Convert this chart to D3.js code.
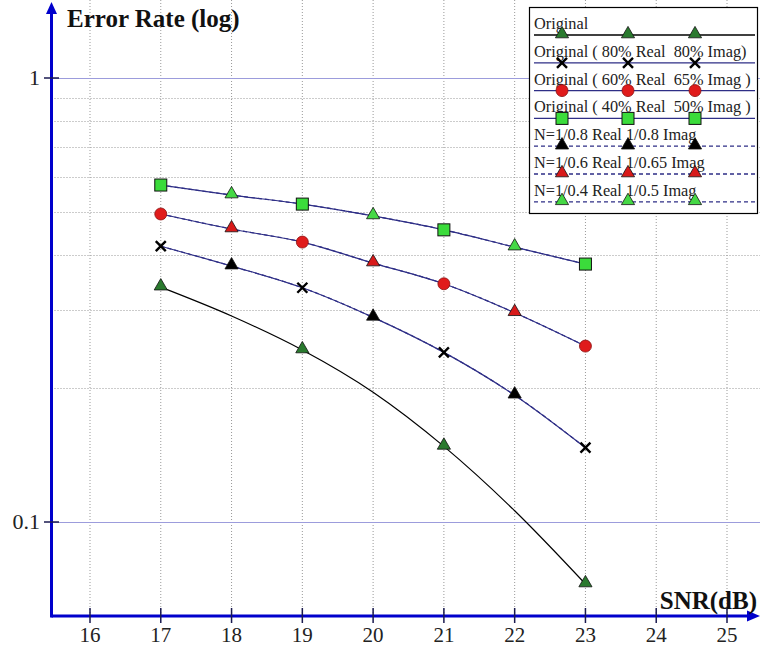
<!DOCTYPE html>
<html>
<head>
<meta charset="utf-8">
<script src="https://cdn.jsdelivr.net/npm/d3@7"></script>
<style>
  body { margin: 0; background: #fff; }
  text { font-family: "Liberation Serif", "DejaVu Serif", serif; }
</style>
</head>
<body>
<script>
// SNR values (dB) shared by every series
var snr = [17, 18, 19, 20, 21, 22, 23];

// error rates
var original      = [0.338, 0.291, 0.244, 0.196, 0.148, 0.106, 0.0725];
var orig80        = [0.418, 0.377, 0.337, 0.289, 0.241, 0.193, 0.147];
var orig60        = [0.494, 0.457, 0.427, 0.383, 0.344, 0.296, 0.249];
var orig40        = [0.574, 0.545, 0.520, 0.489, 0.455, 0.416, 0.381];
var n08           = [0.418, 0.377, 0.337, 0.289, 0.241, 0.193, 0.147];
var n06           = [0.494, 0.457, 0.427, 0.383, 0.344, 0.296, 0.249];
var n04           = [0.574, 0.545, 0.520, 0.489, 0.455, 0.416, 0.381];

var legendLabels = [
    "Original",
    "Original ( 80% Real  80% Imag)",
    "Original ( 60% Real  65% Imag )",
    "Original ( 40% Real  50% Imag )",
    "N=1/0.8 Real 1/0.8 Imag",
    "N=1/0.6 Real 1/0.65 Imag",
    "N=1/0.4 Real 1/0.5 Imag"
];

var xTicks = [16, 17, 18, 19, 20, 21, 22, 23, 24, 25];
var yMajor = [1, 0.1];
var yMinor = [0.2, 0.3, 0.4, 0.5, 0.6, 0.7, 0.8, 0.9];

function makechart() {
    var width = 760,
        height = 648;
    var navy = "#2e2e86";

    var svg = d3.select("body").append("svg")
        .attr("width", width)
        .attr("height", height);

    var x = d3.scaleLinear().domain([16, 25]).range([90, 727]);
    var y = d3.scaleLog().domain([0.1, 1]).range([522, 78]);

    var axisX = 51.5, axisY = 616;

    // series styles (markers drawn on every other point like the original plot)
    var series = [
        { values: original, color: "#000", dash: null, marker: "tri", fill: "#2a7a2e", start: 0 },
        { values: orig80, color: navy, dash: null, marker: "cross", fill: "#000", start: 0 },
        { values: orig60, color: navy, dash: null, marker: "circle", fill: "#e01b1b", start: 0 },
        { values: orig40, color: navy, dash: null, marker: "square", fill: "#3bdc3b", start: 0 },
        { values: n08, color: navy, dash: "4,3", marker: "tri", fill: "#000", start: 1 },
        { values: n06, color: navy, dash: "4,3", marker: "tri", fill: "#d81a1a", start: 1 },
        { values: n04, color: navy, dash: "4,3", marker: "tri", fill: "#45d845", start: 1 }
    ];

    // grid
    var grid = svg.append("g");
    grid.selectAll(".vg").data(xTicks).enter().append("line")
        .attr("x1", d => x(d)).attr("x2", d => x(d))
        .attr("y1", 0).attr("y2", axisY)
        .attr("stroke", "#999").attr("stroke-width", 1)
        .attr("stroke-dasharray", "1,2");
    grid.selectAll(".hg").data(yMinor).enter().append("line")
        .attr("x1", axisX).attr("x2", width)
        .attr("y1", d => Math.round(y(d)) + 0.5).attr("y2", d => Math.round(y(d)) + 0.5)
        .attr("stroke", "#999").attr("stroke-width", 1)
        .attr("stroke-dasharray", "1,2");
    grid.selectAll(".hm").data(yMajor).enter().append("line")
        .attr("x1", axisX).attr("x2", width)
        .attr("y1", d => Math.round(y(d)) + 0.5).attr("y2", d => Math.round(y(d)) + 0.5)
        .attr("stroke", "#9c9cdc").attr("stroke-width", 1.2);

    // lines
    var line = d3.line()
        .x((d, i) => x(snr[i]))
        .y(d => y(d))
        .curve(d3.curveMonotoneX);

    svg.append("g").selectAll("path")
        .data(series)
        .enter()
        .append("path")
        .attr("d", d => line(d.values))
        .attr("fill", "none")
        .attr("stroke", d => d.color)
        .attr("stroke-width", 1.2)
        .attr("stroke-dasharray", d => d.dash);

    function drawMarker(g, kind, fill, cx, cy) {
        if (kind == "tri") {
            g.append("path")
                .attr("d", d3.symbol().type(d3.symbolTriangle).size(75)())
                .attr("transform", "translate(" + cx + "," + (cy - 1) + ")")
                .attr("fill", fill).attr("stroke", "#111").attr("stroke-width", 0.8);
        } else if (kind == "cross") {
            g.append("path")
                .attr("d", "M-5,-5L5,5M-5,5L5,-5")
                .attr("transform", "translate(" + cx + "," + cy + ")")
                .attr("stroke", "#000").attr("stroke-width", 2.4);
        } else if (kind == "circle") {
            g.append("circle")
                .attr("cx", cx).attr("cy", cy).attr("r", 6)
                .attr("fill", fill).attr("stroke", "#8a1010").attr("stroke-width", 0.8);
        } else {
            g.append("rect")
                .attr("x", cx - 6).attr("y", cy - 6)
                .attr("width", 12).attr("height", 12)
                .attr("fill", fill).attr("stroke", "#111").attr("stroke-width", 1);
        }
    }

    var marks = svg.append("g");
    series.forEach(function (s) {
        s.values.forEach(function (v, i) {
            if ((i - s.start) % 2 == 0 && i >= s.start) {
                drawMarker(marks, s.marker, s.fill, x(snr[i]), y(v));
            }
        });
    });

    // axes
    var ax = svg.append("g");
    ax.append("line").attr("x1", axisX).attr("x2", width - 8)
        .attr("y1", axisY).attr("y2", axisY)
        .attr("stroke", "#0000cc").attr("stroke-width", 3);
    ax.append("path").attr("d", "M760,616L747,610.5L747,621.5Z").attr("fill", "#0000cc");
    ax.append("line").attr("x1", axisX).attr("x2", axisX)
        .attr("y1", axisY + 1.5).attr("y2", 12)
        .attr("stroke", "#0000cc").attr("stroke-width", 3);
    ax.append("path").attr("d", "M51.5,2L46,14L57,14Z").attr("fill", "#0000cc");

    ax.selectAll(".xt").data(xTicks).enter().append("line")
        .attr("x1", d => x(d)).attr("x2", d => x(d))
        .attr("y1", axisY - 8).attr("y2", axisY + 7)
        .attr("stroke", "#1a1a50").attr("stroke-width", 1.5);
    ax.selectAll(".xl").data(xTicks).enter().append("text")
        .attr("x", d => x(d)).attr("y", 642)
        .attr("text-anchor", "middle")
        .attr("font-size", 21).attr("fill", "#222")
        .text(d => d);

    ax.selectAll(".yt").data(yMajor).enter().append("line")
        .attr("x1", 44).attr("x2", 59)
        .attr("y1", d => y(d)).attr("y2", d => y(d))
        .attr("stroke", "#1a1a50").attr("stroke-width", 1.5);
    ax.selectAll(".yl").data(yMajor).enter().append("text")
        .attr("x", 40).attr("y", d => y(d) + 7)
        .attr("text-anchor", "end")
        .attr("font-size", 22).attr("fill", "#222")
        .text(d => d);

    svg.append("text").attr("x", 67).attr("y", 27)
        .attr("font-size", 25).attr("font-weight", "bold").attr("fill", "#111")
        .text("Error Rate (log)");
    svg.append("text").attr("x", 757).attr("y", 609)
        .attr("text-anchor", "end")
        .attr("font-size", 25).attr("font-weight", "bold").attr("fill", "#111")
        .text("SNR(dB)");

    // legend
    var lg = svg.append("g");
    lg.append("rect").attr("x", 529.5).attr("y", 7.5)
        .attr("width", 228).attr("height", 206)
        .attr("fill", "#fff").attr("stroke", "#000").attr("stroke-width", 1.2);
    var markX = [562, 628, 695];
    series.forEach(function (s, i) {
        var ly = 35 + i * 27.8;
        lg.append("text").attr("x", 534).attr("y", ly - 6)
            .attr("font-size", 16.3).attr("fill", "#222")
            .style("white-space", "pre")
            .text(legendLabels[i]);
        lg.append("line").attr("x1", 534).attr("x2", 755)
            .attr("y1", ly).attr("y2", ly)
            .attr("stroke", s.color).attr("stroke-width", 1.3)
            .attr("stroke-dasharray", s.dash);
        markX.forEach(function (mx) {
            drawMarker(lg, s.marker, s.fill, mx, ly);
        });
    });
}
makechart();
</script>
</body>
</html>
